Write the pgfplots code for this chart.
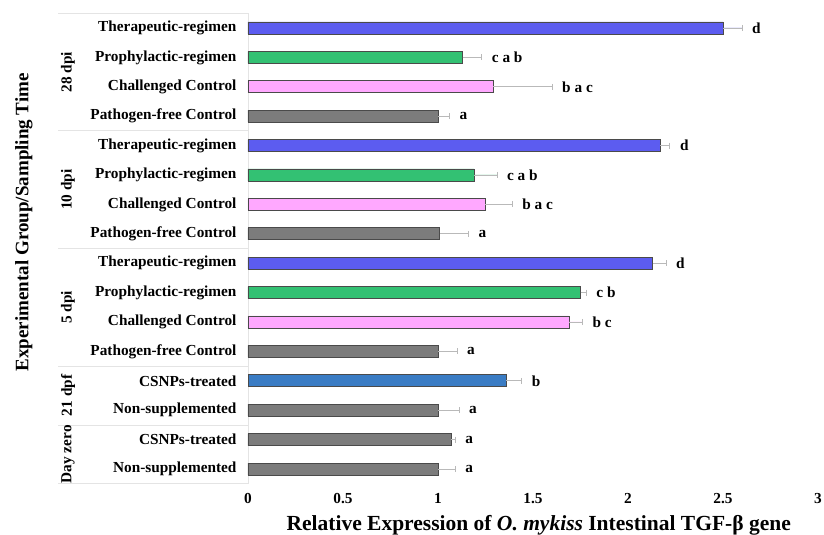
\documentclass[border=0pt]{standalone}
\usepackage{fontspec}
\setmainfont{Liberation Serif}
\usepackage{pgfplots}
\usepackage{pgfplotstable}
\pgfplotsset{compat=1.18}

\definecolor{therblue}{HTML}{5C5CF0}
\definecolor{prgreen}{HTML}{33C173}
\definecolor{chpink}{HTML}{FFA8FF}
\definecolor{ctrlgray}{HTML}{7C7C7C}
\definecolor{csblue}{HTML}{3A7CC4}
\definecolor{edge}{HTML}{4A4A4A}
\definecolor{sepgray}{HTML}{E4E4E4}

% rows are numbered bottom (0) to top (15); v = mean, e = error
\pgfplotstableread{
y v e
15 2.50 0.10
11 2.17 0.05
7  2.13 0.07
}\therapeutic
\pgfplotstableread{
y v e
14 1.13 0.10
10 1.19 0.12
6  1.75 0.03
}\prophylactic
\pgfplotstableread{
y v e
13 1.29 0.31
9  1.25 0.14
5  1.69 0.07
}\challenged
\pgfplotstableread{
y v e
12 1.00 0.06
8  1.01 0.15
4  1.00 0.10
2  1.00 0.11
1  1.07 0.02
0  1.00 0.09
}\controls
\pgfplotstableread{
y v e
3 1.36 0.08
}\csnps
\pgfplotstableread{
y v e lab
15 2.50 0.10 d
14 1.13 0.10 {c a b}
13 1.29 0.31 {b a c}
12 1.00 0.06 a
11 2.17 0.05 d
10 1.19 0.12 {c a b}
9  1.25 0.14 {b a c}
8  1.01 0.15 a
7  2.13 0.07 d
6  1.75 0.03 {c b}
5  1.69 0.07 {b c}
4  1.00 0.10 a
3  1.36 0.08 b
2  1.00 0.11 a
1  1.07 0.02 a
0  1.00 0.09 a
}\letters

\newcommand{\lblfont}{\bfseries\fontsize{15.3}{17}\selectfont}
\newcommand{\ttlfont}{\bfseries\fontsize{21.5}{24}\selectfont}
\newcommand{\yttlfont}{\bfseries\fontsize{19}{22}\selectfont}

\tikzset{
  sep/.style={sepgray, line width=0.8pt},
  grp/.style={rotate=90, font=\lblfont, anchor=center},
}

\begin{document}
\begin{tikzpicture}
\useasboundingbox (-248pt,-51.3pt) rectangle (576pt,483.7pt);
\begin{axis}[
  at={(0,0)}, anchor=south west,
  scale only axis, width=570pt, height=470.4pt,
  xmin=0, xmax=3, ymin=-0.5, ymax=15.5,
  clip=false,
  axis lines*=left,
  x axis line style={draw=none},
  y axis line style={draw=sepgray, line width=0.8pt},
  major tick length=0pt,
  xtick={0,0.5,1,1.5,2,2.5,3},
  xticklabels={0,0.5,1,1.5,2,2.5,3},
  ytick={0,...,15},
  yticklabels={Non-supplemented, CSNPs-treated, Non-supplemented, CSNPs-treated,
    Pathogen-free Control, Challenged Control, Prophylactic-regimen, Therapeutic-regimen,
    Pathogen-free Control, Challenged Control, Prophylactic-regimen, Therapeutic-regimen,
    Pathogen-free Control, Challenged Control, Prophylactic-regimen, Therapeutic-regimen},
  tick label style={font=\lblfont},
  /pgf/number format/assume math mode=true,
  yticklabel style={xshift=-8pt},
  xticklabel style={yshift=-6pt},
  xlabel={Relative Expression of \textit{O. mykiss} Intestinal TGF-β gene},
  xlabel style={font=\ttlfont, at={(axis description cs:0.51,-0.089)}, anchor=center},
  ylabel={Experimental Group/Sampling Time},
  ylabel style={font=\yttlfont, at={(axis description cs:-0.393,0.556)}, anchor=center},
  mybar/.style={xbar, bar width=12pt, bar shift=0pt, draw=edge, line width=0.8pt,
    error bars/x dir=plus, error bars/x explicit, error bars/error mark=|,
    error bars/error bar style={draw=gray!55, line width=0.7pt},
    error bars/error mark options={draw=gray!55, mark size=3pt, line width=0.7pt}},
]
\addplot[mybar, fill=therblue] table[x=v, y=y, x error=e] {\therapeutic};
\addplot[mybar, fill=prgreen] table[x=v, y=y, x error=e] {\prophylactic};
\addplot[mybar, fill=chpink] table[x=v, y=y, x error=e] {\challenged};
\addplot[mybar, fill=ctrlgray] table[x=v, y=y, x error=e] {\controls};
\addplot[mybar, fill=csblue] table[x=v, y=y, x error=e] {\csnps};

% significance letters placed just past each error bar
\addplot[only marks, mark=none, nodes near coords, point meta=explicit symbolic,
  nodes near coords style={anchor=west, font=\lblfont, xshift=10pt, inner sep=0pt}]
  table[x expr=\thisrow{v}+\thisrow{e}, y=y, meta=lab] {\letters};

% group separators on the left
\draw[sep] ([xshift=-190pt]axis cs:0,-0.5) -- (axis cs:0,-0.5);
\draw[sep] ([xshift=-190pt]axis cs:0,1.5) -- (axis cs:0,1.5);
\draw[sep] ([xshift=-190pt]axis cs:0,3.5) -- (axis cs:0,3.5);
\draw[sep] ([xshift=-190pt]axis cs:0,7.5) -- (axis cs:0,7.5);
\draw[sep] ([xshift=-190pt]axis cs:0,11.5) -- (axis cs:0,11.5);
\draw[sep] ([xshift=-190pt]axis cs:0,15.5) -- (axis cs:0,15.5);

% sampling-time group names
\node[grp] at ([xshift=-180pt]axis cs:0,13.5) {28 dpi};
\node[grp] at ([xshift=-180pt]axis cs:0,9.5) {10 dpi};
\node[grp] at ([xshift=-180pt]axis cs:0,5.5) {5 dpi};
\node[grp] at ([xshift=-180pt]axis cs:0,2.5) {21 dpf};
\node[grp] at ([xshift=-180pt]axis cs:0,0.5) {Day zero};
\end{axis}
\end{tikzpicture}
\end{document}
